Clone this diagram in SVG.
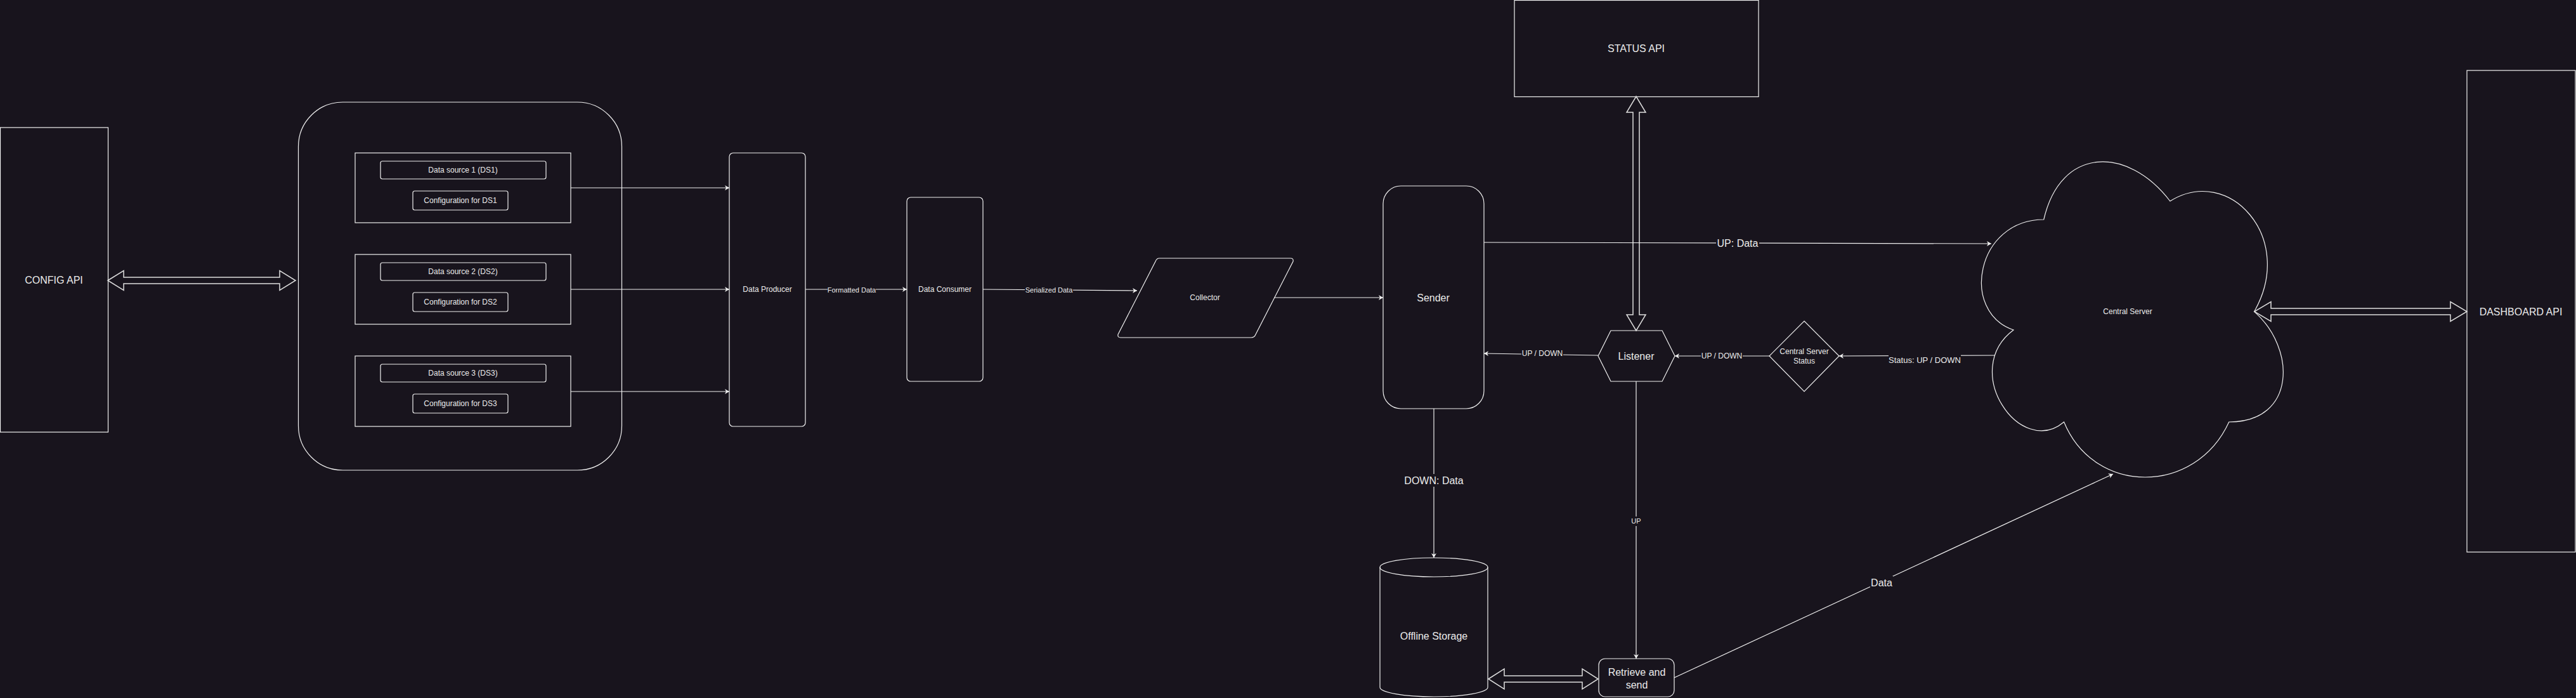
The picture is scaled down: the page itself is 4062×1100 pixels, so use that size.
<svg xmlns="http://www.w3.org/2000/svg" width="4062" height="1100" viewBox="0 0 4062 1100">
<defs>
<style>
.bg{fill:#18141D}
.n{fill:#18141D;stroke:#f0f0f0;stroke-width:1.2}
.blk{fill:#18141D;stroke:#dedede;stroke-width:1.5}
.t{font-family:"Liberation Sans",Arial,Helvetica,sans-serif;fill:#ececec;text-anchor:middle;dominant-baseline:central}
.s11{font-size:11px}.s12{font-size:12px}.s13{font-size:13px}.s16{font-size:16px}
.e{fill:none;stroke:#f0f0f0;stroke-width:1.2}
.lb{fill:#18141D}
</style>
<marker id="ah" markerUnits="userSpaceOnUse" markerWidth="10" markerHeight="10" refX="7" refY="4" orient="auto">
<path d="M0,0 L7,4 L0,8 L2,4 Z" fill="#f0f0f0"/>
</marker>
</defs>
<rect class="bg" x="0" y="0" width="4062" height="1100"/>

<g id="config-api">
<rect class="n" x="0.5" y="201" width="170" height="480"/>
<text class="t s16" x="85" y="441">CONFIG API</text>
</g>

<g id="sources-container">
<rect class="n" x="470.5" y="161" width="510" height="580" rx="70" ry="70"/>
</g>

<g id="ds1">
<rect class="n" x="560" y="241" width="340" height="110"/>
<rect class="n" x="600" y="254" width="261" height="28" rx="3"/>
<text class="t s12" x="730" y="268">Data source 1 (DS1)</text>
<rect class="n" x="651" y="301" width="150" height="30" rx="3"/>
<text class="t s12" x="726" y="316">Configuration for DS1</text>
</g>
<g id="ds2">
<rect class="n" x="560" y="401" width="340" height="110"/>
<rect class="n" x="600" y="414" width="261" height="28" rx="3"/>
<text class="t s12" x="730" y="428">Data source 2 (DS2)</text>
<rect class="n" x="651" y="461" width="150" height="30" rx="3"/>
<text class="t s12" x="726" y="476">Configuration for DS2</text>
</g>
<g id="ds3">
<rect class="n" x="560" y="561" width="340" height="111"/>
<rect class="n" x="600" y="574" width="261" height="28" rx="3"/>
<text class="t s12" x="730" y="588">Data source 3 (DS3)</text>
<rect class="n" x="651" y="621" width="150" height="30" rx="3"/>
<text class="t s12" x="726" y="636">Configuration for DS3</text>
</g>

<g id="data-producer">
<rect class="n" x="1150" y="241" width="120" height="431" rx="6"/>
<text class="t s12" x="1210" y="456">Data Producer</text>
</g>

<g id="data-consumer">
<rect class="n" x="1430" y="311" width="120" height="290" rx="6"/>
<text class="t s12" x="1490" y="456">Data Consumer</text>
</g>

<g id="collector">
<path class="n" stroke-width="2" d="M1828,407 L2035,407 Q2040,407 2039,412 L1980,527 Q1978,532 1973,532 L1767,532 Q1762,532 1763,527 L1822,412 Q1824,407 1828,407 Z"/>
<text class="t s12" x="1900" y="469">Collector</text>
</g>

<g id="sender">
<rect class="n" x="2181" y="293" width="159" height="351" rx="28"/>
<text class="t s16" x="2260" y="469">Sender</text>
</g>

<g id="status-api">
<rect class="n" x="2388" y="0.5" width="385" height="152"/>
<text class="t s16" x="2580" y="76">STATUS API</text>
</g>

<g id="listener">
<polygon class="n" points="2540,521 2621,521 2641,561 2621,601 2540,601 2520,561"/>
<text class="t s16" x="2580" y="561">Listener</text>
</g>

<g id="central-server-status">
<polygon class="n" stroke-width="1.5" points="2845,506 2900,561 2845,617 2790,561"/>
<text class="t s12" x="2845" y="554">Central Server</text>
<text class="t s12" x="2845" y="569">Status</text>
</g>

<g id="central-server">
<path class="n" d="M3222.75,346 C3116.55,346 3090,491 3175,520 C3090,583.8 3185.6,723 3254.6,665 C3302.4,781 3461.7,781 3514.8,665 C3621,665 3621,549 3554.6,491 C3621,375 3514.8,259 3421.9,317 C3355.5,230 3249.3,230 3222.75,346 Z"/>
<text class="t s12" x="3355" y="491">Central Server</text>
</g>

<g id="dashboard-api">
<rect class="n" x="3890" y="111" width="171" height="759"/>
<text class="t s16" x="3975" y="491">DASHBOARD API</text>
</g>

<g id="offline-storage">
<path class="n" d="M2176,894 A85,15 0 0 1 2346,894 L2346,1083 A85,15 0 0 1 2176,1083 Z"/>
<path class="e" d="M2176,894 A85,15 0 0 0 2346,894"/>
<text class="t s16" x="2261" y="1002">Offline Storage</text>
</g>

<g id="retrieve-and-send">
<rect class="n" x="2521" y="1038" width="119" height="60" rx="10"/>
<text class="t s16" x="2581" y="1059">Retrieve and</text>
<text class="t s16" x="2581" y="1079">send</text>
</g>

<g id="connectors">
<polygon class="blk" points="170,442 195,426.5 195,437 441,437 441,426.5 466,442 441,457.5 441,447 195,447 195,457.5"/>
<polygon class="blk" points="2580,152 2595,177 2585,177 2585,496 2595,496 2580,521 2565,496 2575,496 2575,177 2565,177"/>
<polygon class="blk" points="2347,1070 2372,1054 2372,1065 2495,1065 2495,1054 2520,1070 2495,1086 2495,1075 2372,1075 2372,1086"/>
<polygon class="blk" points="3555,491 3581,475.5 3581,486 3864,486 3864,475.5 3890,491 3864,506.5 3864,496 3581,496 3581,506.5"/>

<path class="e" d="M900,296 L1150,296" marker-end="url(#ah)"/>
<path class="e" d="M900,456 L1150,456" marker-end="url(#ah)"/>
<path class="e" d="M900,617 L1150,617" marker-end="url(#ah)"/>

<path class="e" d="M1270,456 L1430,456" marker-end="url(#ah)"/>
<rect class="lb" x="1305" y="449" width="76" height="15"/>
<text class="t s11" x="1343" y="457">Formatted Data</text>

<path class="e" d="M1550,456 L1793,458" marker-end="url(#ah)"/>
<rect class="lb" x="1616" y="449" width="76" height="15"/>
<text class="t s11" x="1654" y="457">Serialized Data</text>

<path class="e" d="M2009,469 L2181,469" marker-end="url(#ah)"/>

<path class="e" d="M2340,382 L3140,384" marker-end="url(#ah)"/>
<rect class="lb" x="2706" y="373" width="68" height="20"/>
<text class="t s16" x="2740" y="383">UP: Data</text>

<path class="e" d="M2520,560 L2340,557" marker-end="url(#ah)"/>
<rect class="lb" x="2399" y="550" width="66" height="15"/>
<text class="t s12" x="2432" y="557">UP / DOWN</text>

<path class="e" d="M2790,561 L2641,561" marker-end="url(#ah)"/>
<rect class="lb" x="2682" y="554" width="66" height="15"/>
<text class="t s12" x="2715" y="561">UP / DOWN</text>

<path class="e" d="M3146,560 L2900,561" marker-end="url(#ah)"/>
<rect class="lb" x="2978" y="555" width="114" height="21"/>
<text class="t s13" x="3035" y="567">Status: UP / DOWN</text>

<path class="e" d="M2261,644 L2261,879" marker-end="url(#ah)"/>
<rect class="lb" x="2213" y="747" width="96" height="20"/>
<text class="t s16" x="2261" y="757">DOWN: Data</text>

<path class="e" d="M2580,601 L2580,1038" marker-end="url(#ah)"/>
<rect class="lb" x="2571" y="814" width="18" height="15"/>
<text class="t s11" x="2580" y="821">UP</text>

<path class="e" d="M2640,1068 L3332,747" marker-end="url(#ah)"/>
<rect class="lb" x="2949" y="908" width="36" height="20"/>
<text class="t s16" x="2967" y="918">Data</text>
</g>
</svg>
